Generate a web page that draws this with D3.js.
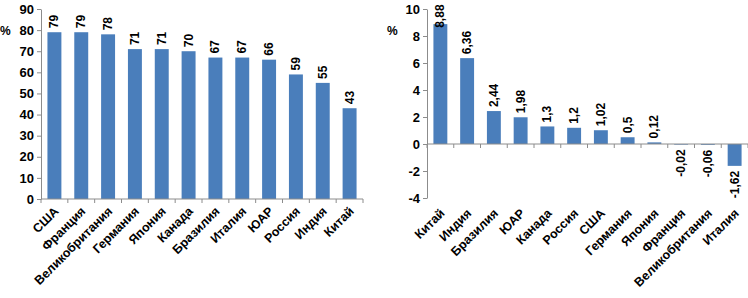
<!DOCTYPE html>
<html>
<head>
<meta charset="utf-8">
<script src="https://cdn.jsdelivr.net/npm/d3@7"></script>
<style>
  body { margin: 0; background: #fff; }
  svg { display: block; font-family: "Liberation Sans", Arial, sans-serif; }
  .axis path, .axis line { stroke: #8c8c8c; }
</style>
</head>
<body>
<div id="chart"></div>
<script>
// left chart
const leftCountries = ["США", "Франция", "Великобритания", "Германия", "Япония", "Канада", "Бразилия", "Италия", "ЮАР", "Россия", "Индия", "Китай"];
const leftValues = [79, 79, 78, 71, 71, 70, 67, 67, 66, 59, 55, 43];
const leftTicks = [0, 10, 20, 30, 40, 50, 60, 70, 80, 90];

// right chart
const rightCountries = ["Китай", "Индия", "Бразилия", "ЮАР", "Канада", "Россия", "США", "Германия", "Япония", "Франция", "Великобритания", "Италия"];
const rightValues = [8.88, 6.36, 2.44, 1.98, 1.3, 1.2, 1.02, 0.5, 0.12, -0.02, -0.06, -1.62];
const rightTicks = [-4, -2, 0, 2, 4, 6, 8, 10];

const barColor = "#4a7ebb";
const fmt = v => String(v).replace(".", ",");

const svg = d3.select("#chart").append("svg")
    .attr("width", 748)
    .attr("height", 298);

function drawPanel(cfg){
    const g = svg.append("g");

    const x = d3.scaleBand()
        .domain(cfg.cats)
        .range([cfg.x0, cfg.x1])
        .paddingInner(0.48)
        .paddingOuter(0.24);

    const y = d3.scaleLinear()
        .domain(cfg.domain)
        .range([cfg.yBottom, cfg.yTop]);

    // y axis
    const ya = g.append("g")
        .attr("class", "axis")
        .attr("transform", "translate(" + cfg.x0 + ",0)")
        .call(d3.axisLeft(y).tickValues(cfg.ticks).tickSize(4).tickSizeOuter(0).tickFormat(d => d));
    ya.selectAll("text")
        .attr("x", -7)
        .style("font-size", "13px")
        .style("font-weight", "bold")
        .attr("fill", "#000");

    const rows = cfg.cats.map((c, i) => ({c: c, v: cfg.vals[i]}));

    // bars
    g.selectAll(".bar")
        .data(rows)
        .enter()
        .append("rect")
        .attr("class", "bar")
        .attr("x", d => x(d.c))
        .attr("width", x.bandwidth())
        .attr("y", d => y(Math.max(0, d.v)))
        .attr("height", d => Math.max(0.6, Math.abs(y(d.v) - y(0))))
        .attr("fill", barColor);

    // x axis line at zero with ticks between bands
    const step = x.step();
    g.append("line")
        .attr("x1", cfg.x0).attr("x2", cfg.x1)
        .attr("y1", y(0)).attr("y2", y(0))
        .attr("stroke", "#8c8c8c");
    const edges = d3.range(cfg.cats.length + 1).map(i => cfg.x0 + i * step);
    g.selectAll(".xtick")
        .data(edges)
        .enter()
        .append("line")
        .attr("x1", d => d).attr("x2", d => d)
        .attr("y1", y(0)).attr("y2", y(0) + 4)
        .attr("stroke", "#8c8c8c");

    // value labels (pushed down if they would leave the top edge)
    g.selectAll(".val")
        .data(rows)
        .enter()
        .append("text")
        .attr("transform", d => {
            const cx = x(d.c) + x.bandwidth() / 2 + 4;
            const yy = d.v >= 0 ? Math.max(y(d.v) - 4, fmt(d.v).length * 6.7 + 1) : Math.max(y(d.v), y(0)) + 5;
            return "translate(" + cx + "," + yy + ") rotate(-90)";
        })
        .attr("text-anchor", d => d.v >= 0 ? "start" : "end")
        .style("font-size", "12px")
        .style("font-weight", "bold")
        .text(d => fmt(d.v));

    // category labels
    g.selectAll(".cat")
        .data(cfg.cats)
        .enter()
        .append("text")
        .attr("transform", d => "translate(" + (x(d) + x.bandwidth() / 2 + 5) + "," + (cfg.labelY) + ") rotate(-45)")
        .attr("text-anchor", "end")
        .style("font-size", "12.5px")
        .style("font-weight", "bold")
        .text(d => d);

    // percent sign
    g.append("text")
        .attr("x", cfg.pctX)
        .attr("y", cfg.pctY)
        .style("font-size", "12px")
        .style("font-weight", "bold")
        .text("%");
}

drawPanel({
    cats: leftCountries, vals: leftValues, ticks: leftTicks,
    domain: [0, 90], x0: 41, x1: 363, yBottom: 199, yTop: 9,
    labelY: 212, pctX: 0, pctY: 35
});

drawPanel({
    cats: rightCountries, vals: rightValues, ticks: rightTicks,
    domain: [-4, 10], x0: 427, x1: 748, yBottom: 198, yTop: 9,
    labelY: 214, pctX: 387, pctY: 35
});
</script>
</body>
</html>
